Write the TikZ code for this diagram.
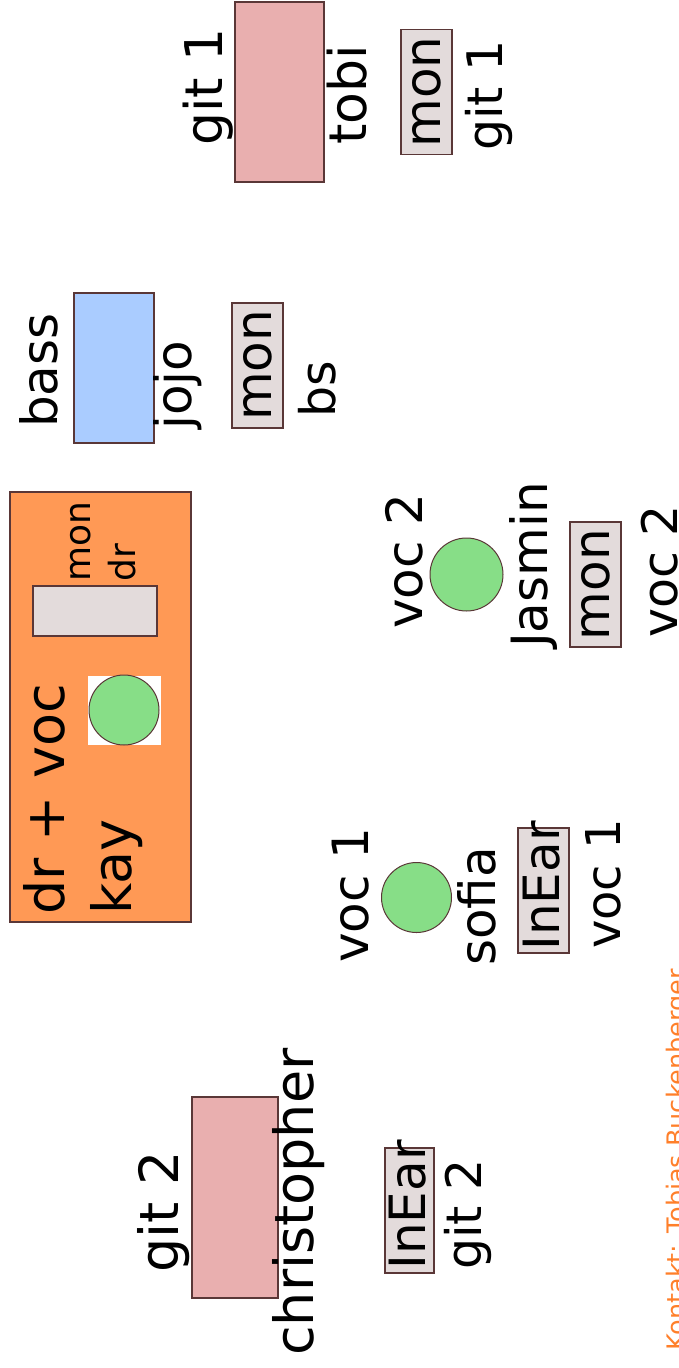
\documentclass[tikz,border=0pt]{standalone}
\usepackage{fontspec}
\setmainfont{DejaVu Sans}
\usepackage{tikz}
\usetikzlibrary{positioning,shapes.geometric}
\definecolor{edgec}{RGB}{90,55,55}
\definecolor{riserorange}{RGB}{255,153,85}
\definecolor{bassblue}{RGB}{170,204,255}
\definecolor{gitpink}{RGB}{233,175,175}
\definecolor{micgreen}{RGB}{135,222,135}
\definecolor{mongrey}{RGB}{227,219,219}
\definecolor{contactorange}{RGB}{255,127,42}

\tikzset{
  stagetxt/.style={rotate=90, anchor=base west, inner sep=0pt, font=\fontsize{52}{60}\selectfont},
  subtxt/.style={stagetxt, font=\fontsize{49}{56}\selectfont},
  smalltxt/.style={stagetxt, font=\fontsize{36}{42}\selectfont},
  boxtxt/.style={rotate=90, inner sep=0pt, font=\fontsize{50}{56}\selectfont},
  amp/.style={rectangle, draw=edgec, line width=1.2pt, inner sep=0pt},
  monbox/.style={rectangle, draw=edgec, fill=mongrey, line width=1.2pt, inner sep=0pt,
    minimum width=51pt, minimum height=125pt},
  mic/.style={circle, draw=edgec, fill=micgreen, line width=1pt, inner sep=0pt}
}

\begin{document}
\begin{tikzpicture}[x=1pt, y=-1pt]
\useasboundingbox (0,0) rectangle (678,1368);

% Drum riser
\node[amp, fill=riserorange, minimum width=181pt, minimum height=430pt] (riser) at (100.5,707) {};
\node[stagetxt, font=\fontsize{54}{60}\selectfont] (drvoc) at (64,915) {dr + voc};
\node[stagetxt, font=\fontsize{54}{60}\selectfont] (kay) at (131,915) {kay};
\node[rectangle, fill=white, minimum width=73pt, minimum height=69pt, inner sep=0pt] (kaymicbg) at (124.5,710.5) {};
\node[mic, minimum size=70pt] (kaymic) at (124,710) {};
\node[amp, fill=mongrey, minimum width=124pt, minimum height=50pt] (drmon) at (95,611) {};
\node[smalltxt] (drmonlbl) at (90,582) {mon};
\node[smalltxt] (drmonsub) at (135,582) {dr};

% Bass
\node[amp, fill=bassblue, minimum width=80pt, minimum height=150pt] (bassamp) at (114,368) {};
\node[stagetxt, font=\fontsize{50}{56}\selectfont] (basslbl) at (57,428) {bass};
\node[stagetxt, font=\fontsize{50}{56}\selectfont] (jojo) at (191,430) {jojo};
\node[monbox] (bassmon) at (257.5,365.5) {};
\node[boxtxt] at (bassmon.center) {mon};
\node[subtxt] (bassmonsub) at (335,418) {bs};

% Guitar 1
\node[amp, fill=gitpink, minimum width=89pt, minimum height=180pt] (gitoneamp) at (279.5,92) {};
\node[stagetxt] (gitonelbl) at (222,146) {git 1};
\node[stagetxt] (tobi) at (366,145) {tobi};
\node[monbox] (gitonemon) at (426.5,92) {};
\node[boxtxt] at (gitonemon.center) {mon};
\node[subtxt] (gitonemonsub) at (502,151) {git 1};

% Vocal 2
\node[stagetxt, font=\fontsize{50}{56}\selectfont] (voctwolbl) at (422,629) {voc 2};
\node[mic, minimum size=73pt] (jasminmic) at (466.5,574.5) {};
\node[stagetxt, font=\fontsize{50}{56}\selectfont] (jasmin) at (547,648) {Jasmin};
\node[monbox] (voctwomon) at (595.5,584.5) {};
\node[boxtxt] at (voctwomon.center) {mon};
\node[subtxt] (voctwomonsub) at (677,638) {voc 2};

% Vocal 1
\node[stagetxt, font=\fontsize{50}{56}\selectfont] (voconelbl) at (368,963) {voc 1};
\node[mic, minimum size=70pt] (sofiamic) at (416.5,897.5) {};
\node[stagetxt, font=\fontsize{50}{56}\selectfont] (sofia) at (495,966) {sofia};
\node[monbox] (voconeear) at (543.5,890.5) {};
\node[boxtxt] at (542,886) {InEar};
\node[subtxt, font=\fontsize{48}{56}\selectfont] (voconeearsub) at (620,949) {voc 1};

% Guitar 2
\node[amp, fill=gitpink, minimum width=86pt, minimum height=201pt] (gittwoamp) at (235,1197.5) {};
\node[stagetxt, font=\fontsize{54}{60}\selectfont] (gittwolbl) at (178,1273) {git 2};
\node[stagetxt, font=\fontsize{54}{60}\selectfont] (christopher) at (313,1356) {christopher};
\node[monbox, minimum width=49pt] (gittwoear) at (409.5,1210.5) {};
\node[boxtxt] at (408,1205) {InEar};
\node[subtxt] (gittwoearsub) at (481,1270) {git 2};

% Contact
\node[stagetxt, font=\fontsize{25.5}{30}\selectfont, text=contactorange] (contact) at (685,1351) {Kontakt: Tobias Buckenberger};

\end{tikzpicture}
\end{document}
